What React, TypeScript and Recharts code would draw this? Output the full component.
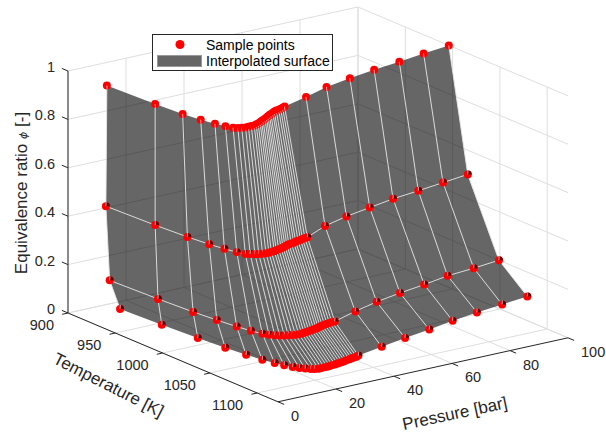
import { ScatterChart, Scatter, XAxis, YAxis } from "recharts";

const pressures = [1, 2, 3, 4, 5, 6, 7, 8, 9, 10, 11, 12, 13, 14, 15, 16, 17, 18, 19, 20, 21, 22, 23, 24, 25, 26, 27, 28, 29, 30, 40, 50, 60, 70, 80, 90, 100];

// ignition temperature [K] along each equivalence ratio level
const tempPhi100 = [938, 986, 1012, 1028, 1040, 1048, 1053, 1055, 1056, 1057, 1057, 1057, 1057, 1056, 1055, 1054, 1052.5, 1051, 1050, 1048.5, 1047, 1045.5, 1044, 1043, 1041.5, 1040.5, 1040, 1039, 1038, 1037, 1029, 1020, 1014, 1009, 1005, 1000, 996];
const tempPhi050 = [937, 986, 1017, 1037, 1050, 1060, 1066, 1068, 1070, 1071, 1072, 1072.5, 1072.5, 1072, 1072, 1071, 1070.5, 1070, 1069, 1068, 1067, 1066, 1065.5, 1065, 1064, 1063.5, 1063, 1062, 1061.5, 1061, 1049, 1041, 1035, 1029, 1025, 1020.5, 1016];
const tempPhi020 = [941, 989, 1023, 1045, 1063, 1075, 1084, 1088, 1091, 1093, 1095, 1096, 1097, 1097.5, 1098, 1098, 1097.5, 1097, 1096.5, 1096, 1095.5, 1095, 1094, 1093, 1092, 1091.5, 1091, 1090.5, 1090, 1090, 1081, 1073, 1067, 1062, 1056, 1053, 1049];
const tempPhi010 = [952, 993, 1028, 1054, 1073, 1087, 1097, 1104, 1110, 1114, 1117, 1120, 1121, 1122, 1122, 1122, 1122, 1121.5, 1121, 1121, 1120.5, 1120, 1119.5, 1119, 1118, 1118, 1117, 1116.5, 1116, 1115, 1109, 1103, 1098, 1092, 1087, 1083, 1079];

const phiLevels = [1, 0.5, 0.2, 0.1];
const tempRows = [tempPhi100, tempPhi050, tempPhi020, tempPhi010];

const pressureTicks = [0, 20, 40, 60, 80, 100];
const tempTicks = [900, 950, 1000, 1050, 1100];
const phiTicks = [0, 0.2, 0.4, 0.6, 0.8, 1];
const pMin = 0;
const pMax = 100;
const tMin = 900;
const tMax = 1122;

const W = 606;
const H = 432;
const AXIS = "#262626";
const GRID = "#dedede";
const EDGE = "#e8e8e8";

// fixed view of the 3D box: maps (bar, K, phi) to the plane
function project(p: number, t: number, phi: number) {
  return {
    x: 68 + 0.946 * (t - tMin) + 2.9 * p,
    y: 313 + 0.4 * (t - tMin) - 0.64 * p - 242 * phi,
  };
}

type Pt = { x: number; y: number; label?: string };
const seg = (a: number[], b: number[]): Pt[] => [project(a[0], a[1], a[2]), project(b[0], b[1], b[2])];

const gridSegs: Pt[][] = [
  ...phiTicks.map((z) => seg([pMin, tMin, z], [pMax, tMin, z])),
  ...phiTicks.map((z) => seg([pMax, tMin, z], [pMax, tMax, z])),
  ...pressureTicks.map((p) => seg([p, tMin, 0], [p, tMin, 1])),
  ...pressureTicks.map((p) => seg([p, tMin, 0], [p, tMax, 0])),
  ...tempTicks.map((t) => seg([pMax, t, 0], [pMax, t, 1])),
  ...tempTicks.map((t) => seg([pMin, t, 0], [pMax, t, 0])),
];

const axisSegs: Pt[][] = [
  seg([pMin, tMin, 0], [pMin, tMin, 1]),
  seg([pMin, tMin, 0], [pMin, tMax, 0]),
  seg([pMin, tMax, 0], [pMax, tMax, 0]),
  ...phiTicks.map((z) => seg([pMin, tMin, z], [pMin, tMin - 6.5, z])),
  ...tempTicks.map((t) => seg([pMin, t, 0], [pMin - 2, t, 0])),
  ...pressureTicks.map((p) => seg([p, tMax, 0], [p, tMax + 6.5, 0])),
];

const rowPoints = tempRows.map((row, r) => row.map((t, i) => project(pressures[i], t, phiLevels[r])));
const columnLines = pressures.map((_, i) => rowPoints.map((row) => row[i]));
const outline = [
  ...rowPoints[0],
  rowPoints[1][rowPoints[1].length - 1],
  rowPoints[2][rowPoints[2].length - 1],
  ...[...rowPoints[3]].reverse(),
  rowPoints[2][0],
  rowPoints[1][0],
];

const phiLabels = phiTicks.map((z) => ({ ...project(pMin, tMin, z), label: String(z) }));
const tempLabels = tempTicks.map((t) => ({ ...project(pMin, t, 0), label: String(t) }));
const pressureLabels = pressureTicks.map((p) => ({ ...project(p, tMax, 0), label: String(p) }));

const NoDot = () => <g />;

const tickLabel = (dx: number, dy: number, anchor: string) => (props: any) => (
  <text x={props.cx + dx} y={props.cy + dy} textAnchor={anchor} fontSize={14.5} fill={AXIS} fontFamily="Liberation Sans">
    {props.payload.label}
  </text>
);

// the part of a sample point behind the translucent surface shows dark
const Marker = (top: boolean) => (props: any) => {
  const r = 4;
  const { cx, cy } = props;
  return (
    <g>
      <circle cx={cx} cy={cy} r={r} fill="#ff0000" />
      {!top && <path d={`M${cx} ${cy}L${cx} ${cy - r}A${r} ${r} 0 0 1 ${cx + r} ${cy}Z`} fill="#660000" />}
      <line x1={cx} y1={cy} x2={cx + 0.3} y2={top ? cy + r : cy - r} stroke={EDGE} strokeWidth={0.7} />
    </g>
  );
};

export default function App() {
  const lineSeries = (data: Pt[], key: string, stroke: string, width: number) => (
    <Scatter
      key={key}
      data={data}
      shape={NoDot}
      line={{ stroke, strokeWidth: width }}
      isAnimationActive={false}
    />
  );

  return (
    <div style={{ position: "absolute", left: 0, top: 0, width: W, height: H, fontFamily: "Liberation Sans" }}>
      <ScatterChart width={W} height={H} margin={{ top: 0, right: 0, bottom: 0, left: 0 }}>
        <XAxis type="number" dataKey="x" domain={[0, W]} hide allowDataOverflow />
        <YAxis type="number" dataKey="y" domain={[0, H]} reversed hide allowDataOverflow />

        {gridSegs.map((s, i) => lineSeries(s, `grid-${i}`, GRID, 1))}

        <Scatter
          data={outline}
          shape={NoDot}
          line={{ fill: "#000000", fillOpacity: 0.6, stroke: "none" }}
          isAnimationActive={false}
        />

        {axisSegs.map((s, i) => lineSeries(s, `axis-${i}`, AXIS, 1))}
        {columnLines.map((s, i) => lineSeries(s, `col-${i}`, EDGE, 0.9))}
        {lineSeries(rowPoints[1], "row-1", EDGE, 0.9)}
        {lineSeries(rowPoints[2], "row-2", EDGE, 0.9)}

        {rowPoints.map((row, r) => (
          <Scatter key={`pts-${r}`} data={row} shape={Marker(r === 0)} isAnimationActive={false} />
        ))}

        <Scatter data={phiLabels} shape={tickLabel(-13, 1, "end")} isAnimationActive={false} />
        <Scatter data={tempLabels} shape={tickLabel(-14, 17, "end")} isAnimationActive={false} />
        <Scatter data={pressureLabels} shape={tickLabel(13, 19, "start")} isAnimationActive={false} />
      </ScatterChart>

      <svg width={W} height={H} style={{ position: "absolute", left: 0, top: 0, pointerEvents: "none" }} fontFamily="Liberation Sans" fill={AXIS}>
        <text transform="translate(27,193) rotate(-90)" textAnchor="middle" fontSize={17}>
          Equivalence ratio <tspan fontStyle="italic" fontSize={11} fontFamily="DejaVu Sans">ϕ</tspan> [-]
        </text>
        <text transform="translate(106,390) rotate(27)" textAnchor="middle" fontSize={17}>Temperature [K]</text>
        <text transform="translate(456,419) rotate(-12)" textAnchor="middle" fontSize={17}>Pressure [bar]</text>

        <rect x={152.5} y={34.5} width={180} height={36} fill="#fff" stroke={AXIS} />
        <circle cx={180} cy={44.5} r={4.5} fill="#ff0000" />
        <rect x={157.5} y={55.5} width={44} height={11} fill="#666666" stroke="#999" />
        <text x={206} y={49.5} fontSize={14} fill="#000">Sample points</text>
        <text x={206} y={66} fontSize={14} fill="#000">Interpolated surface</text>
      </svg>
    </div>
  );
}
